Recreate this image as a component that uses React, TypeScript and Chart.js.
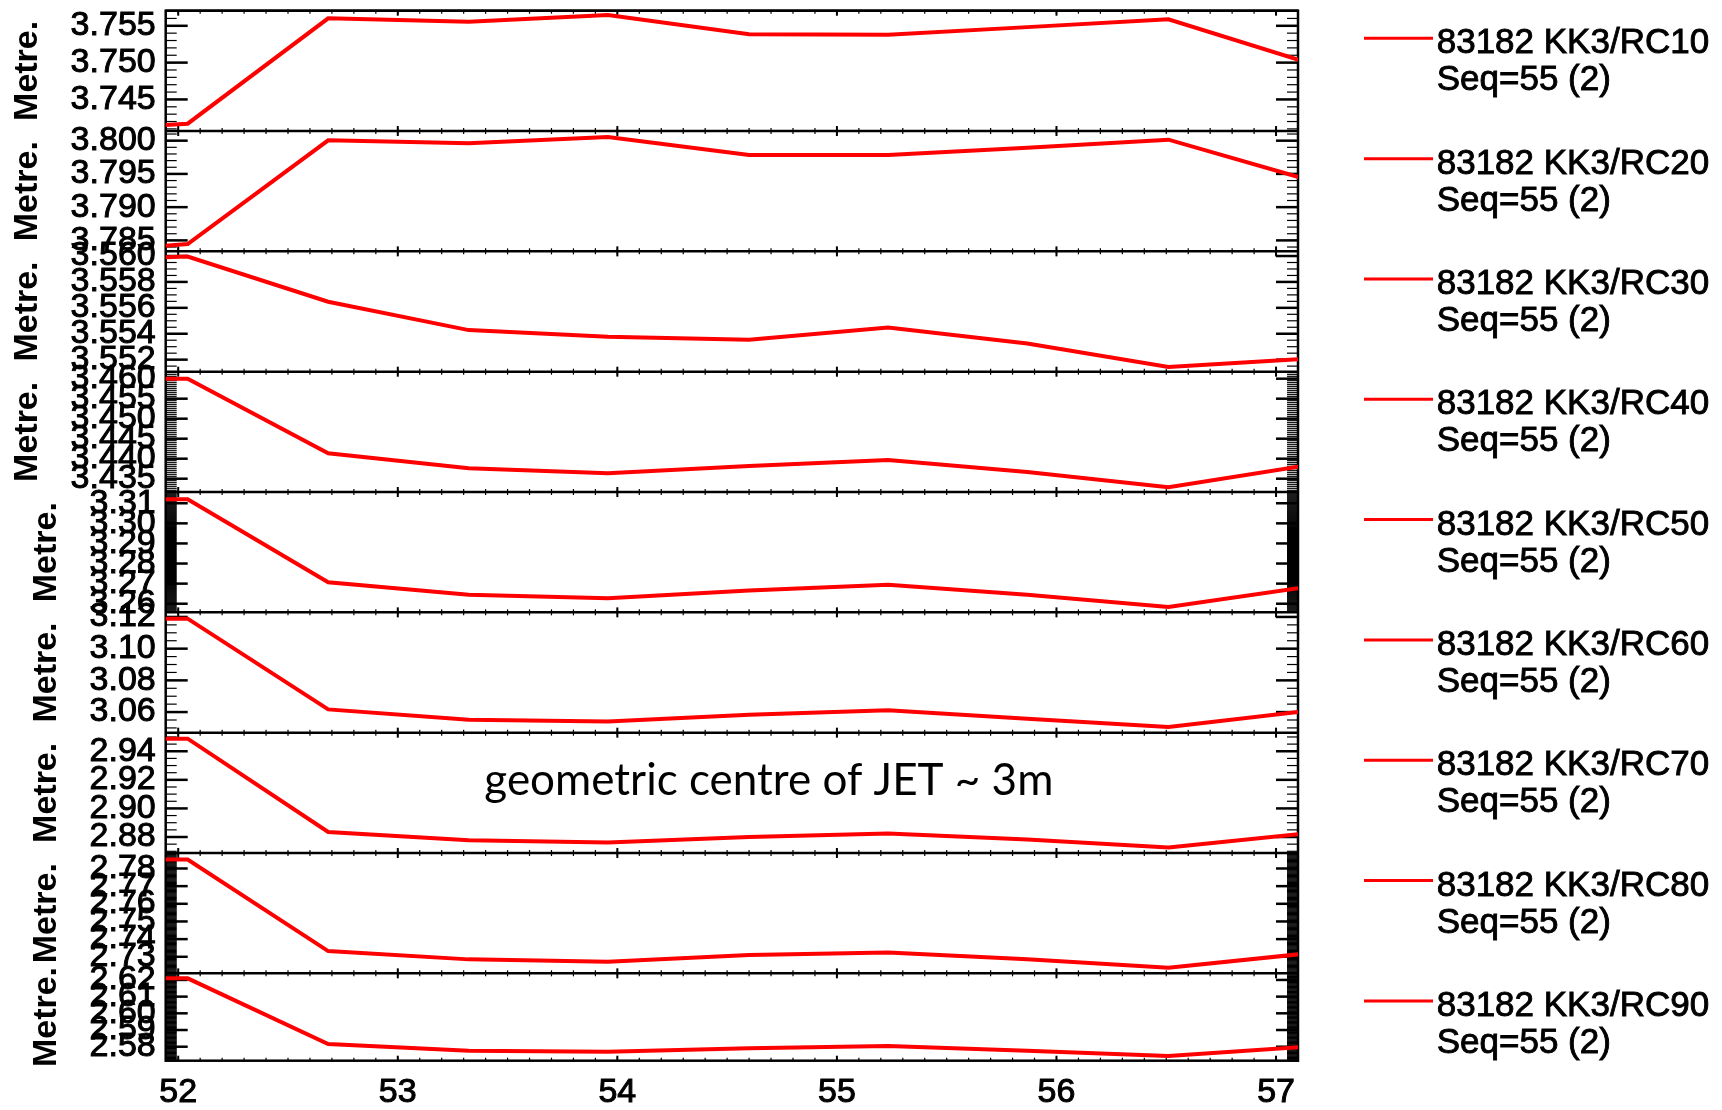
import React, { useEffect, useRef } from 'react';
import { Chart, registerables } from 'chart.js';

Chart.register(...registerables);

// ---------------- data ----------------
const TIMES = [51.405, 52.043, 52.683, 53.323, 53.957, 54.6, 55.233, 55.867, 56.51, 57.148];

const RC10 = [3.7406, 3.74171, 3.75601, 3.75555, 3.75647, 3.75386, 3.75377, 3.75482, 3.75588, 3.74995];
const RC20 = [3.7829, 3.78445, 3.80005, 3.7996, 3.80055, 3.79785, 3.79785, 3.79895, 3.80015, 3.79409];
const RC30 = [3.5596, 3.55996, 3.55647, 3.55428, 3.55376, 3.55353, 3.55448, 3.55324, 3.55143, 3.55208];
const RC40 = [3.46, 3.46, 3.44135, 3.4376, 3.43635, 3.43818, 3.43968, 3.43668, 3.43285, 3.43842];
const RC50 = [3.312, 3.31198, 3.27069, 3.26446, 3.26277, 3.26658, 3.26941, 3.26446, 3.25833, 3.26848];
const RC60 = [3.1189, 3.11893, 3.0617, 3.0552, 3.05413, 3.05836, 3.06107, 3.05584, 3.05054, 3.06077];
const RC70 = [2.9488, 2.94881, 2.8835, 2.8777, 2.8761, 2.88, 2.8824, 2.8782, 2.8726, 2.88266];
const RC80 = [2.785, 2.78503, 2.73322, 2.72853, 2.72718, 2.73096, 2.73249, 2.72853, 2.72379, 2.73198];
const RC90 = [2.621, 2.62096, 2.58162, 2.5776, 2.577, 2.57904, 2.58042, 2.5776, 2.57443, 2.58006];

const SERIES = [RC10, RC20, RC30, RC40, RC50, RC60, RC70, RC80, RC90];
const SERIES_LABELS = [
  '83182 KK3/RC10',
  '83182 KK3/RC20',
  '83182 KK3/RC30',
  '83182 KK3/RC40',
  '83182 KK3/RC50',
  '83182 KK3/RC60',
  '83182 KK3/RC70',
  '83182 KK3/RC80',
  '83182 KK3/RC90',
];
const SEQ_LABEL = 'Seq=55 (2)';
const Y_TITLE = 'Metre.';

const Y_MIN = [3.74071, 3.78335, 3.55107, 3.43167, 3.2557, 3.047, 2.8688, 2.72062, 2.57162];
const Y_MAX = [3.75705, 3.80145, 3.56036, 3.46175, 3.3156, 3.1229, 2.953, 2.78876, 2.62395];
const Y_TICKS = [
  [3.745, 3.75, 3.755],
  [3.785, 3.79, 3.795, 3.8],
  [3.552, 3.554, 3.556, 3.558, 3.56],
  [3.435, 3.44, 3.445, 3.45, 3.455, 3.46],
  [3.26, 3.27, 3.28, 3.29, 3.3, 3.31],
  [3.06, 3.08, 3.1, 3.12],
  [2.88, 2.9, 2.92, 2.94],
  [2.73, 2.74, 2.75, 2.76, 2.77, 2.78],
  [2.58, 2.59, 2.6, 2.61, 2.62],
];
const Y_DECIMALS = [3, 3, 3, 3, 2, 2, 2, 2, 2];
const Y_MINOR_STEP = [0.001, 0.001, 0.0005, 0.0005, 0.0005, 0.005, 0.005, 0.0005, 0.0005];

const X_MIN = 51.943;
const X_MAX = 57.1;
const X_TICKS = [52, 53, 54, 55, 56, 57];
const X_MINOR_STEP = 0.1;

const NOTE_TEXT = 'geometric centre of JET ~ 3m';
const NOTE_PANEL = 6;
const NOTE_X = 54.69;
const NOTE_Y = 2.9092;

// ---------------- styles ----------------
const RED = '#ff0000';
const FONT = 'Liberation Sans';
const PANEL_WEIGHT = [1, 1, 1, 1, 1, 1, 1, 1, 0.726];
const TITLE_SIZE = 34;
const TITLE_PAD = [10.5, 10.5, 10.5, 10.5, 29.7, 29.7, 29.7, 29.7, 29.7];
const PANEL_IDS = SERIES.map((_, i) => 'y' + (i + 1));

function line(ctx: CanvasRenderingContext2D, x1: number, y1: number, x2: number, y2: number) {
  ctx.beginPath();
  ctx.moveTo(x1, y1);
  ctx.lineTo(x2, y2);
  ctx.stroke();
}

const decorPlugin = {
  id: 'decor',
  beforeDatasetsDraw(chart: any) {
    const ctx: CanvasRenderingContext2D = chart.ctx;
    const area = chart.chartArea;
    const xs = chart.scales.x;
    ctx.save();
    ctx.strokeStyle = '#000';
    PANEL_IDS.forEach((id, i) => {
      const ys = chart.scales[id];
      // minor y ticks
      ctx.lineWidth = 1.2;
      const step = Y_MINOR_STEP[i];
      const k0 = Math.ceil(ys.min / step - 1e-6);
      const k1 = Math.floor(ys.max / step + 1e-6);
      for (let k = k0; k <= k1; k++) {
        const py = ys.getPixelForValue(k * step);
        line(ctx, area.left, py, area.left + 11, py);
        line(ctx, area.right - 11, py, area.right, py);
      }
      // major y ticks
      ctx.lineWidth = 2.5;
      for (const t of ys.ticks) {
        const py = ys.getPixelForValue(t.value);
        line(ctx, area.left, py, area.left + 22, py);
        line(ctx, area.right - 22, py, area.right, py);
      }
      // x ticks on top and bottom of each panel
      ctx.lineWidth = 1.2;
      const m0 = Math.ceil(X_MIN / X_MINOR_STEP - 1e-6);
      const m1 = Math.floor(X_MAX / X_MINOR_STEP + 1e-6);
      for (let m = m0; m <= m1; m++) {
        const px = xs.getPixelForValue(m * X_MINOR_STEP);
        line(ctx, px, ys.top, px, ys.top + 3);
        line(ctx, px, ys.bottom - 3, px, ys.bottom);
      }
      ctx.lineWidth = 2;
      for (const t of xs.ticks) {
        const px = xs.getPixelForValue(t.value);
        line(ctx, px, ys.top, px, ys.top + 5);
        line(ctx, px, ys.bottom - 5, px, ys.bottom);
      }
      // panel separator
      ctx.lineWidth = 2.5;
      line(ctx, area.left, ys.top, area.right, ys.top);
    });
    ctx.lineWidth = 2.5;
    ctx.strokeRect(area.left, area.top, area.right - area.left, area.bottom - area.top);
    ctx.restore();
  },
  afterDraw(chart: any) {
    const ctx: CanvasRenderingContext2D = chart.ctx;
    const area = chart.chartArea;
    ctx.save();
    PANEL_IDS.forEach((id, i) => {
      const ys = chart.scales[id];
      const top = ys.top;
      ctx.strokeStyle = RED;
      ctx.lineWidth = 3;
      line(ctx, area.right + 66, top + 27.6, area.right + 135, top + 27.6);
      ctx.fillStyle = '#000';
      ctx.strokeStyle = '#000';
      ctx.lineWidth = 0.9;
      ctx.font = `35px "${FONT}"`;
      ctx.textAlign = 'left';
      ctx.textBaseline = 'alphabetic';
      const tx = area.right + 138.7;
      ctx.fillText(SERIES_LABELS[i], tx, top + 42.6);
      ctx.strokeText(SERIES_LABELS[i], tx, top + 42.6);
      ctx.fillText(SEQ_LABEL, tx, top + 79.6);
      ctx.strokeText(SEQ_LABEL, tx, top + 79.6);
    });
    const xs = chart.scales.x;
    const yn = chart.scales[PANEL_IDS[NOTE_PANEL]];
    ctx.fillStyle = '#000';
    ctx.font = '44px Lato';
    ctx.textAlign = 'center';
    ctx.textBaseline = 'alphabetic';
    ctx.fillText(NOTE_TEXT, xs.getPixelForValue(NOTE_X), yn.getPixelForValue(NOTE_Y));
    ctx.restore();
  },
};

export default function App() {
  const ref = useRef<HTMLCanvasElement>(null);
  useEffect(() => {
    Chart.defaults.font.family = FONT;
    const datasets = SERIES.map((vals, i) => ({
      label: SERIES_LABELS[i],
      data: TIMES.map((t, j) => ({ x: t, y: vals[j] })),
      xAxisID: 'x',
      yAxisID: PANEL_IDS[i],
      borderColor: RED,
      backgroundColor: RED,
      borderWidth: 4,
      pointRadius: 0,
      tension: 0,
      fill: false,
    }));
    const scales: any = {
      x: {
        type: 'linear',
        position: 'bottom',
        min: X_MIN,
        max: X_MAX,
        grid: { display: false, drawTicks: false },
        border: { display: false },
        afterBuildTicks: (s: any) => {
          s.ticks = X_TICKS.map((v) => ({ value: v }));
        },
        afterFit: (s: any) => {
          s.height = 49.3;
          s.paddingLeft = 0;
          s.paddingRight = 0;
          s.paddingTop = 0;
          s.paddingBottom = 0;
        },
        ticks: {
          autoSkip: false,
          maxRotation: 0,
          padding: 11.4,
          color: '#000',
          textStrokeColor: '#000',
          textStrokeWidth: 1,
          font: { family: FONT, size: 34 },
          callback: (v: any) => String(v),
        },
      },
    };
    PANEL_IDS.forEach((id, i) => {
      scales[id] = {
        type: 'linear',
        position: 'left',
        stack: 'panels',
        stackWeight: PANEL_WEIGHT[i],
        weight: PANEL_IDS.length - i,
        min: Y_MIN[i],
        max: Y_MAX[i],
        grid: { display: false, drawTicks: false },
        border: { display: false },
        afterBuildTicks: (s: any) => {
          s.ticks = Y_TICKS[i].map((v) => ({ value: v }));
        },
        afterFit: (s: any) => {
          s.width = 165.7;
          s.paddingTop = 0;
          s.paddingBottom = 0;
          s.paddingLeft = 0;
          s.paddingRight = 0;
        },
        ticks: {
          autoSkip: false,
          padding: 10,
          color: '#000',
          textStrokeColor: '#000',
          textStrokeWidth: 1,
          font: { family: FONT, size: 34 },
          callback: (v: any) => Number(v).toFixed(Y_DECIMALS[i]),
        },
        title: {
          display: true,
          text: Y_TITLE,
          color: '#000',
          font: { family: FONT, size: TITLE_SIZE, weight: 'bold', lineHeight: 1 },
          padding: { top: TITLE_PAD[i], bottom: 0 },
        },
      };
    });
    const chart = new Chart(ref.current as HTMLCanvasElement, {
      type: 'line',
      data: { datasets },
      options: {
        responsive: false,
        maintainAspectRatio: false,
        devicePixelRatio: 1,
        animation: false,
        events: [],
        layout: { padding: { top: 10.7, right: 424, bottom: 0, left: 0 } },
        plugins: {
          legend: { display: false },
          tooltip: { enabled: false },
          title: { display: false },
        },
        scales,
      },
      plugins: [decorPlugin],
    } as any);
    return () => chart.destroy();
  }, []);
  return (
    <div style={{ position: 'absolute', left: 0, top: 0, width: 1722, height: 1110, background: '#fff' }}>
      <canvas ref={ref} width={1722} height={1110} style={{ display: 'block', width: 1722, height: 1110 }} />
    </div>
  );
}
